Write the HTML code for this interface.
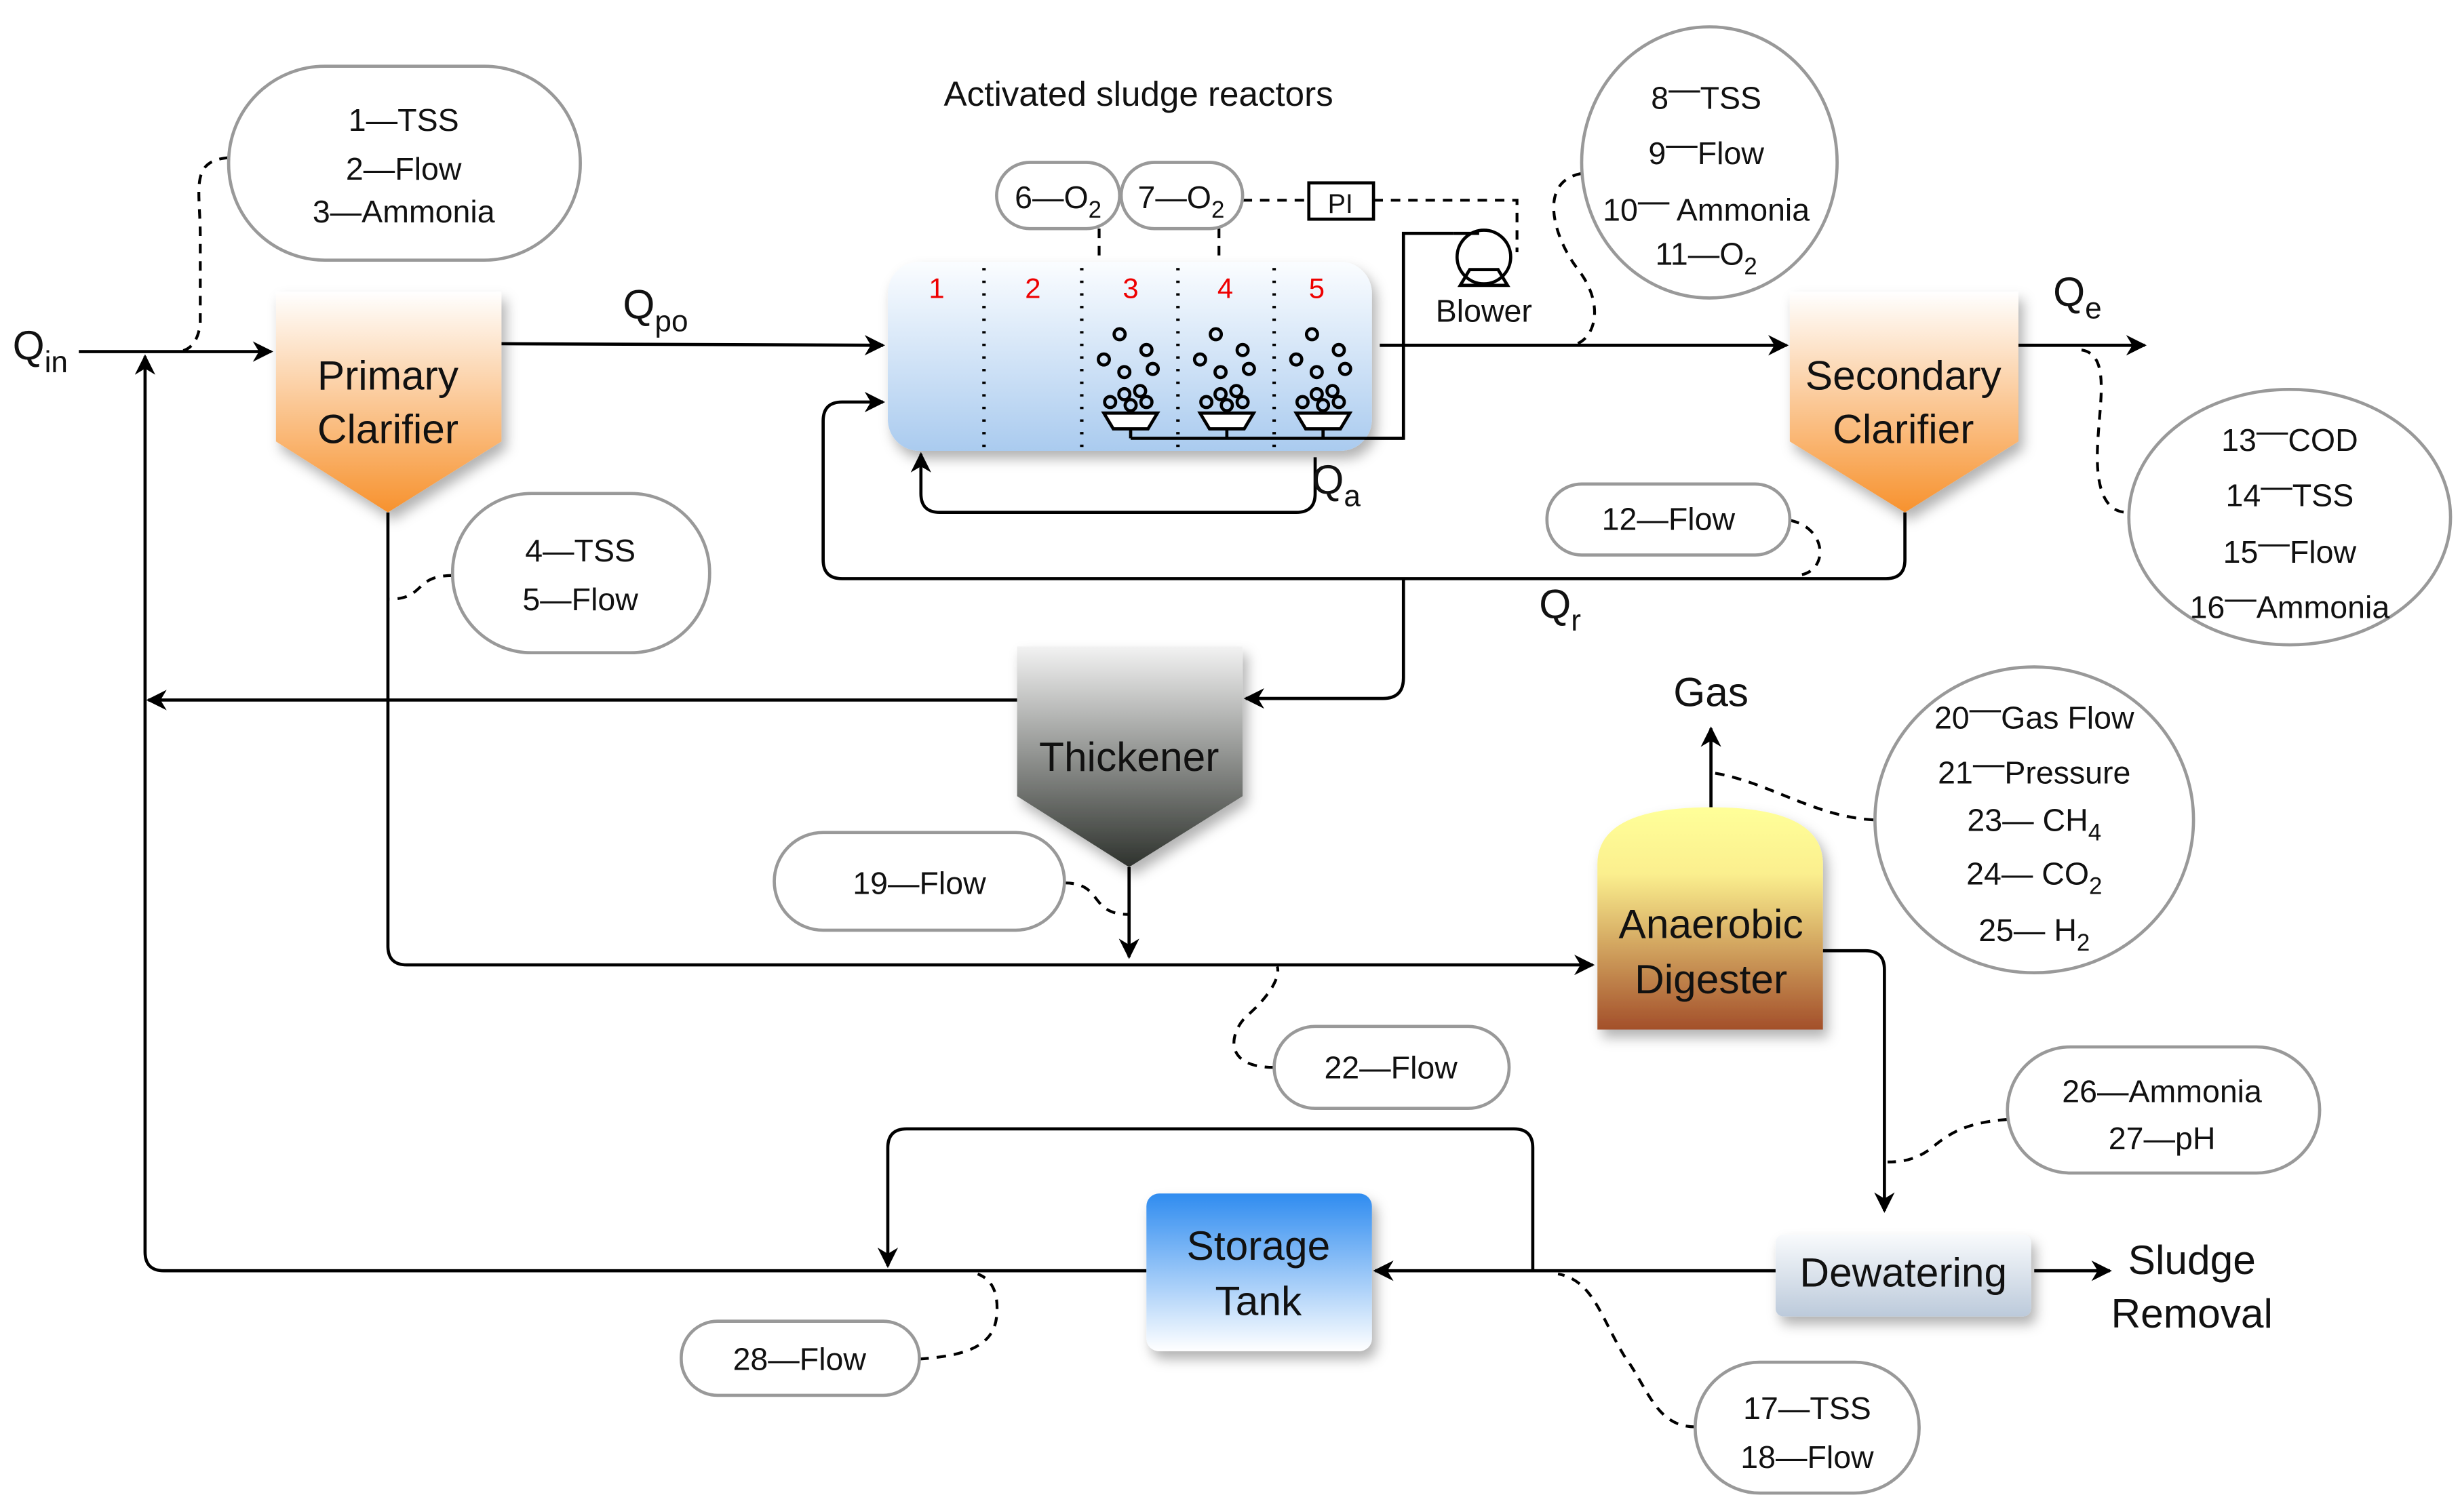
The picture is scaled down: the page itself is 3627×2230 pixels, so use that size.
<!DOCTYPE html>
<html><head><meta charset="utf-8"><style>
html,body{margin:0;padding:0;background:#fff;}
svg{display:block;}
text{font-family:"Liberation Sans",Arial,sans-serif;fill:#111;}
</style></head><body>
<svg width="3627" height="2230" viewBox="0 0 1560 959" preserveAspectRatio="none" xmlns="http://www.w3.org/2000/svg">
<defs>
<linearGradient id="gOr" x1="0" y1="0" x2="0" y2="1"><stop offset="0" stop-color="#fff"/><stop offset="1" stop-color="#f7922e"/></linearGradient>
<linearGradient id="gTh" x1="0" y1="0" x2="0" y2="1"><stop offset="0" stop-color="#f2f2f2"/><stop offset="1" stop-color="#2e322d"/></linearGradient>
<linearGradient id="gRe" x1="0" y1="0" x2="0" y2="1"><stop offset="0" stop-color="#fbfdff"/><stop offset="1" stop-color="#aacbef"/></linearGradient>
<linearGradient id="gAD" x1="0" y1="0" x2="0" y2="1"><stop offset="0" stop-color="#ffff99"/><stop offset="0.3" stop-color="#fbef8e"/><stop offset="1" stop-color="#a34f2a"/></linearGradient>
<linearGradient id="gDw" x1="0" y1="0" x2="0" y2="1"><stop offset="0" stop-color="#f8fafc"/><stop offset="1" stop-color="#bccadb"/></linearGradient>
<linearGradient id="gSt" x1="0" y1="0" x2="0" y2="1"><stop offset="0" stop-color="#2f8cf0"/><stop offset="1" stop-color="#ffffff"/></linearGradient>
<filter id="sh" x="-20%" y="-20%" width="150%" height="150%"><feDropShadow dx="3" dy="5" stdDeviation="4" flood-color="#000" flood-opacity="0.3"/></filter>
<marker id="ar" viewBox="0 0 10 10" refX="9" refY="5" markerWidth="13" markerHeight="13" markerUnits="userSpaceOnUse" orient="auto"><path d="M0,0 L10,5 L0,10 L3,5 z" fill="#000"/></marker>
<g id="bub">
<circle cx="-7" cy="-33" r="3.5"/><circle cx="10" cy="-23" r="3.5"/><circle cx="-17" cy="-17" r="3.5"/><circle cx="-4" cy="-9" r="3.5"/><circle cx="14" cy="-11" r="3.5"/>
<circle cx="-4" cy="5" r="3.5"/><circle cx="6" cy="3" r="3.5"/><circle cx="-13" cy="10" r="3.5"/><circle cx="0" cy="12" r="3.5"/><circle cx="10" cy="10" r="3.5"/>
<path d="M-17,17 L17,17 L11,27 L-11,27 z" fill="#fff"/><path d="M0,27 V33"/>
</g>
</defs>
<g stroke="#000" stroke-width="2" fill="none">
<path d="M50,223 H172" marker-end="url(#ar)"/>
<path d="M318,218 L560,219" marker-end="url(#ar)"/>
<path d="M875,219 H1133" marker-end="url(#ar)"/>
<path d="M1280,219 H1360" marker-end="url(#ar)"/>
<path d="M1208,325 V355 Q1208,367 1196,367 H534 Q522,367 522,355 V267 Q522,255 534,255 H560" marker-end="url(#ar)"/>
<path d="M834,290 V313 Q834,325 822,325 H596 Q584,325 584,313 V288" marker-end="url(#ar)"/>
<path d="M890,367 V430 Q890,443 877,443 H790" marker-end="url(#ar)"/>
<path d="M645,444 H94" marker-end="url(#ar)"/>
<path d="M246,325 V600 Q246,612 258,612 H1010" marker-end="url(#ar)"/>
<path d="M716,550 V607" marker-end="url(#ar)"/>
<path d="M1085,512 V462" marker-end="url(#ar)"/>
<path d="M1156,603 H1183 Q1195,603 1195,615 V768" marker-end="url(#ar)"/>
<path d="M1290,806 H1338" marker-end="url(#ar)"/>
<path d="M1126,806 H872" marker-end="url(#ar)"/>
<path d="M972,806 V728 Q972,716 960,716 H575 Q563,716 563,728 V803" marker-end="url(#ar)"/>
<path d="M727,806 H104 Q92,806 92,794 V226" marker-end="url(#ar)"/>
<path d="M717,278 H890 V148 H922"/>
<g stroke-dasharray="6,5" stroke-width="1.8">
<path d="M145,100 C120,102 127,120 127,150 V205 Q125,222 113,223"/>
<path d="M287,365 C262,365 270,380 247,380"/>
<path d="M697,145 V165"/><path d="M773,145 V165"/>
<path d="M788,127 H830"/><path d="M871,127 H962 V160"/>
<path d="M1003,110 C975,115 985,150 1000,170 C1020,195 1010,219 995,219"/>
<path d="M1135,330 C1160,335 1160,365 1138,365"/>
<path d="M1320,222 C1340,225 1330,260 1330,290 C1330,325 1345,325 1350,325"/>
<path d="M675,560 C700,560 690,580 716,580"/>
<path d="M808,677 C775,677 780,655 790,645 C805,632 812,620 810,613"/>
<path d="M1188,520 C1150,518 1120,495 1085,490"/>
<path d="M1273,710 C1245,712 1235,720 1225,728 C1215,736 1205,737 1197,737"/>
<path d="M583,862 C610,860 630,855 632,835 C634,815 625,810 620,808"/>
<path d="M1075,905 C1050,905 1045,880 1030,860 C1015,835 1010,812 988,808"/>
</g>
</g>
<g fill="#fff" stroke="#999" stroke-width="2">
<rect x="145" y="42" width="223" height="123" rx="61"/>
<rect x="287" y="313" width="163" height="101" rx="50"/>
<rect x="632" y="103" width="78" height="42" rx="21"/>
<rect x="711" y="103" width="77" height="42" rx="21"/>
<ellipse cx="1084" cy="103" rx="81" ry="86"/>
<rect x="981" y="307" width="154" height="45" rx="22"/>
<ellipse cx="1452" cy="328" rx="102" ry="81"/>
<rect x="491" y="528" width="184" height="62" rx="31"/>
<ellipse cx="1290" cy="520" rx="101" ry="97"/>
<rect x="808" y="651" width="149" height="52" rx="26"/>
<rect x="1273" y="664" width="198" height="80" rx="40"/>
<rect x="432" y="838" width="151" height="47" rx="23"/>
<rect x="1075" y="864" width="142" height="83" rx="41"/>
</g>
<rect x="830" y="116" width="41" height="23" fill="#fff" stroke="#000" stroke-width="2"/>
<text x="850" y="135" font-size="17" text-anchor="middle">PI</text>
<path d="M175,185 H318 V280 L246,325 L175,280 z" fill="url(#gOr)" filter="url(#sh)"/>
<path d="M1135,185 H1280 V280 L1208,325 L1135,280 z" fill="url(#gOr)" filter="url(#sh)"/>
<path d="M645,410 H788 V505 L716,550 L645,505 z" fill="url(#gTh)" filter="url(#sh)"/>
<rect x="563" y="166" width="307" height="120" rx="20" fill="url(#gRe)" filter="url(#sh)"/>
<path d="M1013,653 V548 Q1013,512 1085,512 Q1156,512 1156,548 V653 z" fill="url(#gAD)" filter="url(#sh)"/>
<rect x="1126" y="783" width="162" height="52" rx="5" fill="url(#gDw)" filter="url(#sh)"/>
<rect x="727" y="757" width="143" height="100" rx="8" fill="url(#gSt)" filter="url(#sh)"/>
<g stroke="#000" stroke-width="2.2" stroke-dasharray="1.5,6.5"><path d="M624,170 V286 M686,170 V286 M747,170 V286 M808,170 V286"/></g>
<g fill="none" stroke="#000" stroke-width="2">
<use href="#bub" x="717" y="245"/><use href="#bub" x="778" y="245"/><use href="#bub" x="839" y="245"/>
</g>
<path d="M717,278 H890" stroke="#000" stroke-width="2" fill="none"/>
<g font-size="18" text-anchor="middle"><text x="594" y="189" style="fill:#e00">1</text><text x="655" y="189" style="fill:#e00">2</text><text x="717" y="189" style="fill:#e00">3</text><text x="777" y="189" style="fill:#e00">4</text><text x="835" y="189" style="fill:#e00">5</text></g>
<g stroke="#000" stroke-width="2" fill="#fff"><circle cx="941" cy="163" r="17"/><path d="M926,181 L956,181 L950,171 L932,171 z" fill="none"/><path d="M922,148 H938"/></g>
<g font-size="26" text-anchor="middle">
<text x="246" y="247">Primary</text><text x="246" y="281">Clarifier</text>
<text x="1207" y="247">Secondary</text><text x="1207" y="281">Clarifier</text>
<text x="716" y="489">Thickener</text>
<text x="1085" y="595">Anaerobic</text><text x="1085" y="630">Digester</text>
<text x="1207" y="816">Dewatering</text>
<text x="798" y="799">Storage</text><text x="798" y="834">Tank</text>
<text x="1390" y="808">Sludge</text><text x="1390" y="842">Removal</text>
<text x="1085" y="448">Gas</text>
</g>
<text x="722" y="67" font-size="22" text-anchor="middle">Activated sludge reactors</text>
<text x="941" y="204" font-size="20" text-anchor="middle">Blower</text>
<g font-size="26">
<text x="8" y="228">Q<tspan font-size="19" dy="8">in</tspan></text>
<text x="395" y="202">Q<tspan font-size="19" dy="8">po</tspan></text>
<text x="832" y="313">Q<tspan font-size="19" dy="8">a</tspan></text>
<text x="976" y="392">Q<tspan font-size="19" dy="8">r</tspan></text>
<text x="1302" y="194">Q<tspan font-size="19" dy="8">e</tspan></text>
</g>
<g font-size="20" text-anchor="middle">
<text x="256" y="83">1—TSS</text><text x="256" y="114">2—Flow</text><text x="256" y="141">3—Ammonia</text>
<text x="368" y="356">4—TSS</text><text x="368" y="387">5—Flow</text>
<text x="671" y="132">6—O<tspan font-size="15" dy="6">2</tspan></text>
<text x="749" y="132">7—O<tspan font-size="15" dy="6">2</tspan></text>
<text x="1082" y="69">8<tspan dy="-6">—</tspan><tspan dy="6">TSS</tspan></text>
<text x="1082" y="104">9<tspan dy="-6">—</tspan><tspan dy="6">Flow</tspan></text>
<text x="1082" y="140">10<tspan dy="-6">—</tspan><tspan dy="6"> Ammonia</tspan></text>
<text x="1082" y="168">11—O<tspan font-size="15" dy="6">2</tspan></text>
<text x="1058" y="336">12—Flow</text>
<text x="1452" y="286">13<tspan dy="-6">—</tspan><tspan dy="6">COD</tspan></text>
<text x="1452" y="321">14<tspan dy="-6">—</tspan><tspan dy="6">TSS</tspan></text>
<text x="1452" y="357">15<tspan dy="-6">—</tspan><tspan dy="6">Flow</tspan></text>
<text x="1452" y="392">16<tspan dy="-6">—</tspan><tspan dy="6">Ammonia</tspan></text>
<text x="583" y="567">19—Flow</text>
<text x="1290" y="462">20<tspan dy="-6">—</tspan><tspan dy="6">Gas Flow</tspan></text>
<text x="1290" y="497">21<tspan dy="-6">—</tspan><tspan dy="6">Pressure</tspan></text>
<text x="1290" y="527">23— CH<tspan font-size="15" dy="6">4</tspan></text>
<text x="1290" y="561">24— CO<tspan font-size="15" dy="6">2</tspan></text>
<text x="1290" y="597">25— H<tspan font-size="15" dy="6">2</tspan></text>
<text x="882" y="684">22—Flow</text>
<text x="1371" y="699">26—Ammonia</text><text x="1371" y="729">27—pH</text>
<text x="507" y="869">28—Flow</text>
<text x="1146" y="900">17—TSS</text><text x="1146" y="931">18—Flow</text>
</g>
</svg>
</body></html>
